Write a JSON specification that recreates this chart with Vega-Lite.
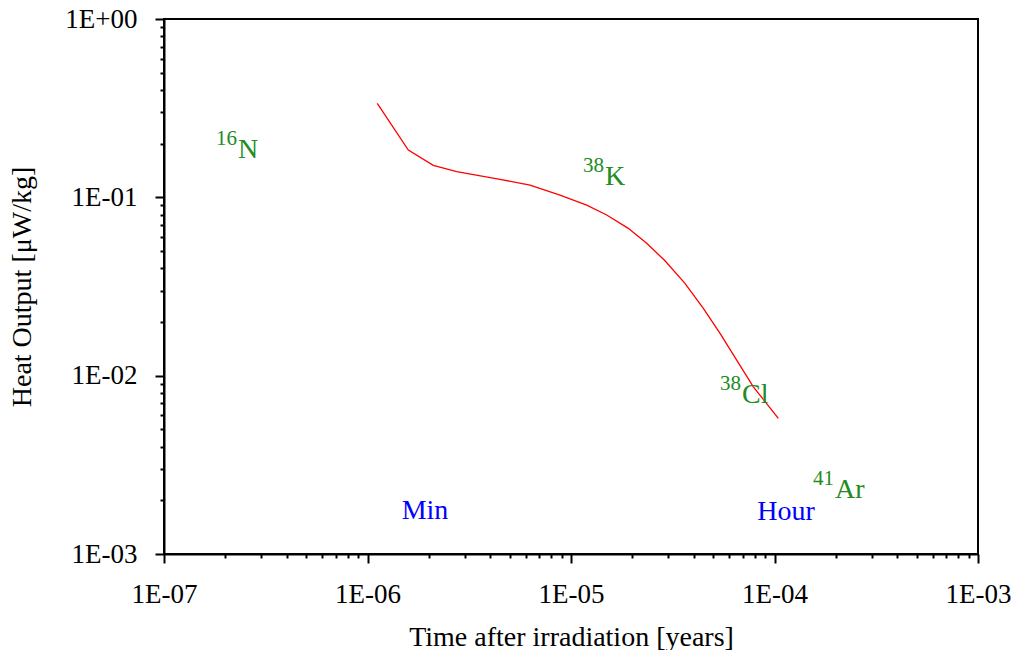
{
  "$schema": "https://vega.github.io/schema/vega-lite/v6.json",
  "width": 814,
  "height": 535,
  "autosize": {"type": "none"},
  "padding": {"left": 164, "top": 19, "right": 38, "bottom": 96},
  "background": "white",
  "config": {
    "view": {"stroke": "black", "strokeWidth": 2},
    "font": "Liberation Serif",
    "axis": {
      "grid": false,
      "domainColor": "black",
      "domainWidth": 2,
      "tickColor": "black",
      "tickWidth": 2,
      "labelFont": "Liberation Serif",
      "labelFontSize": 27,
      "labelColor": "black",
      "labelFlush": false,
      "labelOverlap": false,
      "labelBound": false,
      "titleFont": "Liberation Serif",
      "titleFontSize": 28,
      "titleFontWeight": "normal",
      "titleColor": "black"
    }
  },
  "datasets": {
    "curve": [
      {"t": 1.117e-6, "q": 0.3366},
      {"t": 1.587e-6, "q": 0.1842},
      {"t": 2.105e-6, "q": 0.1512},
      {"t": 2.744e-6, "q": 0.1392},
      {"t": 4.48e-6, "q": 0.1262},
      {"t": 6.29e-6, "q": 0.1172},
      {"t": 8.83e-6, "q": 0.1030},
      {"t": 1.194e-5, "q": 0.0905},
      {"t": 1.498e-5, "q": 0.0796},
      {"t": 1.912e-5, "q": 0.0670},
      {"t": 2.355e-5, "q": 0.0552},
      {"t": 2.897e-5, "q": 0.0441},
      {"t": 3.63e-5, "q": 0.03294},
      {"t": 4.47e-5, "q": 0.02384},
      {"t": 5.40e-5, "q": 0.01727},
      {"t": 6.52e-5, "q": 0.01223},
      {"t": 7.87e-5, "q": 0.00866},
      {"t": 1.044e-4, "q": 0.00576}
    ],
    "labels": [
      {"t": 2.31e-7, "q": 0.1662, "mass": "16", "name": "N", "kind": "nuclide"},
      {"t": 1.469e-5, "q": 0.1173, "mass": "38", "name": "K", "kind": "nuclide"},
      {"t": 6.92e-5, "q": 0.007053, "mass": "38", "name": "Cl", "kind": "nuclide"},
      {"t": 1.983e-4, "q": 0.002061, "mass": "41", "name": "Ar", "kind": "nuclide"},
      {"t": 1.472e-6, "q": 0.001565, "mass": "", "name": "Min", "kind": "time"},
      {"t": 8.23e-5, "q": 0.001551, "mass": "", "name": "Hour", "kind": "time"}
    ]
  },
  "encoding": {
    "x": {
      "field": "t",
      "type": "quantitative",
      "scale": {"type": "log", "domain": [1e-7, 1e-3], "nice": false},
      "axis": {
        "title": "Time after irradiation [years]",
        "values": [1e-7, 2e-7, 3e-7, 4e-7, 5e-7, 6e-7, 7e-7, 8e-7, 9e-7,
                   1e-6, 2e-6, 3e-6, 4e-6, 5e-6, 6e-6, 7e-6, 8e-6, 9e-6,
                   1e-5, 2e-5, 3e-5, 4e-5, 5e-5, 6e-5, 7e-5, 8e-5, 9e-5,
                   1e-4, 2e-4, 3e-4, 4e-4, 5e-4, 6e-4, 7e-4, 8e-4, 9e-4, 1e-3],
        "labelExpr": "abs(log(datum.value)/LN10 - round(log(datum.value)/LN10)) < 1e-6 ? '1E' + (round(log(datum.value)/LN10) < 0 ? '-' : '+') + (abs(round(log(datum.value)/LN10)) < 10 ? '0' : '') + abs(round(log(datum.value)/LN10)) : ''",
        "tickSize": {"condition": {"test": "abs(log(datum.value)/LN10 - round(log(datum.value)/LN10)) < 1e-6", "value": 9}, "value": 4},
        "labelBaseline": "alphabetic",
        "labelPadding": 39,
        "titleX": 407,
        "titleY": 91,
        "titleAnchor": null,
        "titleBaseline": "alphabetic"
      }
    },
    "y": {
      "field": "q",
      "type": "quantitative",
      "scale": {"type": "log", "domain": [1e-3, 1], "nice": false},
      "axis": {
        "title": "Heat Output [μW/kg]",
        "values": [1e-3, 2e-3, 3e-3, 4e-3, 5e-3, 6e-3, 7e-3, 8e-3, 9e-3,
                   1e-2, 2e-2, 3e-2, 4e-2, 5e-2, 6e-2, 7e-2, 8e-2, 9e-2,
                   1e-1, 2e-1, 3e-1, 4e-1, 5e-1, 6e-1, 7e-1, 8e-1, 9e-1, 1],
        "labelExpr": "abs(log(datum.value)/LN10 - round(log(datum.value)/LN10)) < 1e-6 ? '1E' + (round(log(datum.value)/LN10) < 0 ? '-' : '+') + (abs(round(log(datum.value)/LN10)) < 10 ? '0' : '') + abs(round(log(datum.value)/LN10)) : ''",
        "tickSize": {"condition": {"test": "abs(log(datum.value)/LN10 - round(log(datum.value)/LN10)) < 1e-6", "value": 9}, "value": 4},
        "labelPadding": 18,
        "labelBaseline": "middle",
        "titleX": -142,
        "titleY": 267.5,
        "titleAngle": -90,
        "titleAlign": "center",
        "titleBaseline": "middle",
        "titleAnchor": null
      }
    }
  },
  "layer": [
    {
      "data": {"name": "curve"},
      "mark": {"type": "line", "color": "#ff0000", "strokeWidth": 1.3, "clip": true},
      "encoding": {"order": {"field": "t", "type": "quantitative"}}
    },
    {
      "data": {"name": "labels"},
      "mark": {"type": "text", "align": "left", "baseline": "alphabetic", "fontSize": 28, "font": "Liberation Serif"},
      "encoding": {
        "text": {"field": "name"},
        "color": {"field": "kind", "type": "nominal", "scale": {"domain": ["nuclide", "time"], "range": ["#228b22", "#0000ff"]}, "legend": null}
      }
    },
    {
      "data": {"name": "labels"},
      "mark": {"type": "text", "align": "right", "baseline": "alphabetic", "fontSize": 21, "font": "Liberation Serif", "dx": -1, "dy": -13},
      "encoding": {
        "text": {"field": "mass"},
        "color": {"field": "kind", "type": "nominal", "scale": {"domain": ["nuclide", "time"], "range": ["#228b22", "#0000ff"]}, "legend": null}
      }
    }
  ]
}
